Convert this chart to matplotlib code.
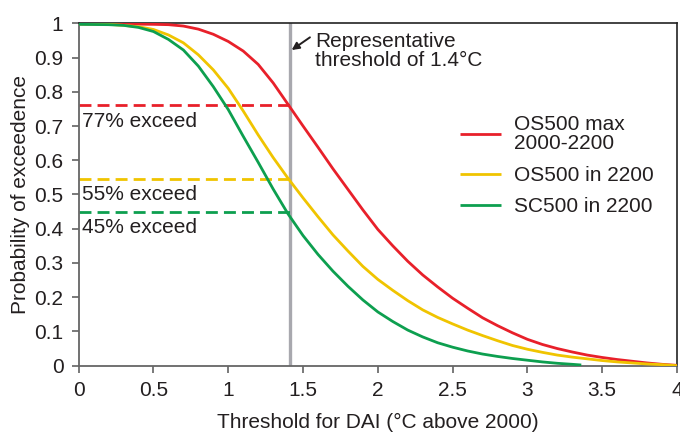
import matplotlib
matplotlib.use("Agg")
import matplotlib.pyplot as plt

plt.rcParams['font.family'] = ['Liberation Sans', 'DejaVu Sans']

# Data
red_x = [0, 0.3, 0.5, 0.6, 0.7, 0.8, 0.9, 1.0, 1.1, 1.2, 1.3, 1.4, 1.5, 1.6, 1.7, 1.8, 1.9, 2.0,
         2.1, 2.2, 2.3, 2.4, 2.5, 2.6, 2.7, 2.8, 2.9, 3.0, 3.1, 3.2, 3.3, 3.4, 3.5, 3.6, 3.7, 3.8, 3.9, 4.0]
red_y = [0.998, 0.998, 0.997, 0.996, 0.992, 0.983, 0.968, 0.947, 0.919, 0.880, 0.826, 0.763, 0.700,
         0.638, 0.575, 0.515, 0.455, 0.398, 0.350, 0.305, 0.265, 0.230, 0.197, 0.168, 0.140, 0.117,
         0.096, 0.077, 0.062, 0.050, 0.040, 0.031, 0.024, 0.018, 0.013, 0.008, 0.004, 0.001]

yel_x = [0, 0.2, 0.3, 0.4, 0.5, 0.6, 0.7, 0.8, 0.9, 1.0, 1.1, 1.2, 1.3, 1.4, 1.5, 1.6, 1.7, 1.8, 1.9,
         2.0, 2.1, 2.2, 2.3, 2.4, 2.5, 2.6, 2.7, 2.8, 2.9, 3.0, 3.1, 3.2, 3.3, 3.4, 3.5, 3.6, 3.7, 3.8, 3.9, 4.0]
yel_y = [0.998, 0.997, 0.994, 0.99, 0.982, 0.966, 0.943, 0.908, 0.864, 0.81, 0.744, 0.674, 0.608,
         0.547, 0.49, 0.435, 0.382, 0.335, 0.29, 0.252, 0.22, 0.19, 0.163, 0.141, 0.122, 0.104, 0.088,
         0.073, 0.059, 0.048, 0.039, 0.031, 0.025, 0.020, 0.015, 0.011, 0.008, 0.005, 0.003, 0.0]

grn_x = [0, 0.2, 0.3, 0.4, 0.5, 0.6, 0.7, 0.8, 0.9, 1.0, 1.1, 1.2, 1.3, 1.4, 1.5, 1.6, 1.7, 1.8, 1.9,
         2.0, 2.1, 2.2, 2.3, 2.4, 2.5, 2.6, 2.7, 2.8, 2.9, 3.0, 3.1, 3.2, 3.3, 3.36]
grn_y = [0.997, 0.996, 0.994, 0.988, 0.976, 0.953, 0.922, 0.875, 0.815, 0.748, 0.670, 0.594, 0.516,
         0.443, 0.38, 0.325, 0.276, 0.232, 0.192, 0.157, 0.129, 0.104, 0.084, 0.067, 0.054, 0.043,
         0.034, 0.027, 0.021, 0.016, 0.011, 0.007, 0.004, 0.002]

labels = ["OS500 max\n2000-2200", "OS500 in 2200", "SC500 in 2200"]
colors = ["#e8202a", "#f0c400", "#0d9f4f"]
threshold = 1.41
exceed = [0.762, 0.545, 0.45]
exceed_labels = ["77% exceed", "55% exceed", "45% exceed"]
xticks = [0, 0.5, 1, 1.5, 2, 2.5, 3, 3.5, 4]
xticklabels = ["0", "0.5", "1", "1.5", "2", "2.5", "3", "3.5", "4"]
yticks = [0, 0.1, 0.2, 0.3, 0.4, 0.5, 0.6, 0.7, 0.8, 0.9, 1.0]
yticklabels = ["0", "0.1", "0.2", "0.3", "0.4", "0.5", "0.6", "0.7", "0.8", "0.9", "1"]

fig = plt.figure(figsize=(6.8, 4.34), dpi=100)
ax = fig.add_axes([0.1157, 0.1574, 0.8799, 0.7889])

txt = "#231f20"
fs = 15

ax.axvline(threshold, color="#a8a8ae", lw=2.4, zorder=1)

for (xs, ys), c, lab in zip([(red_x, red_y), (yel_x, yel_y), (grn_x, grn_y)], colors, labels):
    ax.plot(xs, ys, color=c, lw=2.0, label=lab, zorder=3, solid_capstyle='butt')

for yv, c, lab, off in zip(exceed, colors, exceed_labels, [0.064, 0.061, 0.063]):
    ax.plot([0, threshold], [yv, yv], color=c, lw=2.0, dashes=(4.3, 2.2), zorder=2)
    ax.text(0.022, yv - off, lab, fontsize=fs, color=txt, va='baseline', ha='left')

ax.text(1.58, 0.875, "Representative\nthreshold of 1.4°C", fontsize=fs, color=txt,
        va='baseline', ha='left', linespacing=1.04)
ax.annotate("", xy=(1.424, 0.922), xytext=(1.546, 0.959),
            arrowprops=dict(arrowstyle='-|>', color='#231f20', lw=1.4,
                            mutation_scale=11, shrinkA=0, shrinkB=0))

ax.set_xlim(0, 4)
ax.set_ylim(0, 1)
ax.set_xticks(xticks)
ax.set_xticklabels(xticklabels)
ax.set_yticks(yticks)
ax.set_yticklabels(yticklabels)
ax.tick_params(axis='both', direction='out', length=5, width=1.1, colors='#555555',
               labelcolor=txt, labelsize=fs, pad=6)

for s in ['left', 'bottom']:
    ax.spines[s].set_color('#666666')
    ax.spines[s].set_linewidth(1.3)
for s in ['top', 'right']:
    ax.spines[s].set_color('#222222')
    ax.spines[s].set_linewidth(1.2)

ax.set_xlabel("Threshold for DAI (°C above 2000)", fontsize=fs, color=txt, labelpad=9)
ax.set_ylabel("Probability of exceedence", fontsize=fs, color=txt, labelpad=3)

leg = ax.legend(loc='upper left', bbox_to_anchor=(0.637, 0.733), frameon=False,
                fontsize=fs, handlelength=2.0, handletextpad=0.6, labelspacing=0.6,
                borderpad=0, borderaxespad=0)
for t in leg.get_texts():
    t.set_color(txt)
    t.set_linespacing(1.04)

fig.savefig("out.png", dpi=100)
